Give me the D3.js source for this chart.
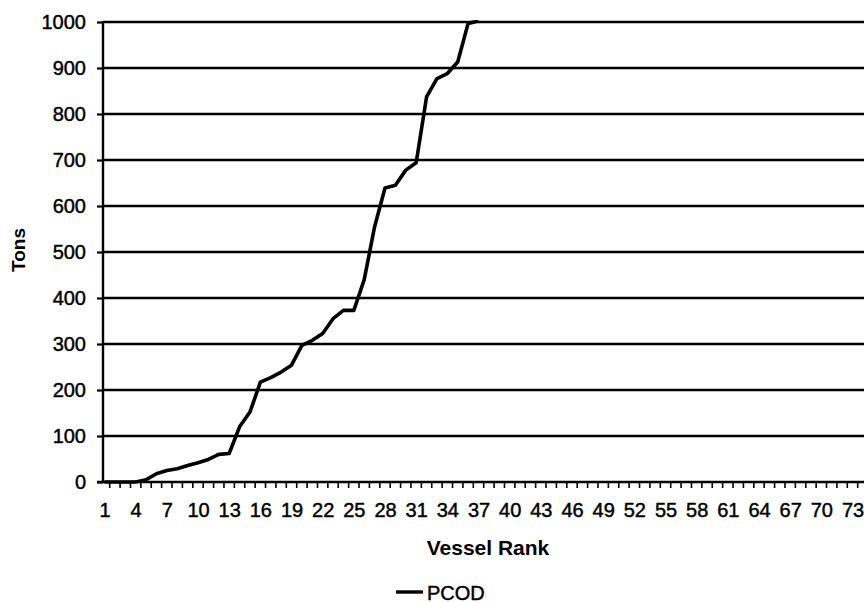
<!DOCTYPE html>
<html>
<head>
<meta charset="utf-8">
<script src="https://cdn.jsdelivr.net/npm/d3@7"></script>
<style>
  html, body { margin: 0; padding: 0; background: #fff; }
  svg { display: block; font-family: "Liberation Sans", Arial, Helvetica, sans-serif; }
  .heavy { stroke: #000; stroke-width: 0.45px; paint-order: stroke; }
</style>
</head>
<body>
<svg id="chart" width="864" height="603"></svg>
<script>
// Cumulative Pacific cod catch (tons) by vessel rank
const vesselRanks = d3.range(1, 74);
const xTickLabels = [1, 4, 7, 10, 13, 16, 19, 22, 25, 28, 31, 34, 37, 40, 43, 46, 49, 52, 55, 58, 61, 64, 67, 70, 73];
const yTickValues = [0, 100, 200, 300, 400, 500, 600, 700, 800, 900, 1000];
const seriesName = "PCOD";
const pcodTons = [
  0, 0, 0, 0, 5, 18, 25, 29, 36, 42,
  49, 60, 62, 120, 152, 217, 227, 239, 254, 297,
  308, 323, 355, 373, 373, 440, 555, 639, 645, 678,
  694, 837, 877, 888, 913, 997, 1002
];

const W = 864, H = 603;
const plot = { left: 103, right: 864, top: 22, bottom: 482 };

const svg = d3.select("#chart");

const x = d3.scalePoint().domain(vesselRanks).range([104.5, 852.5]);
const y = d3.scaleLinear().domain([0, 1000]).range([plot.bottom, plot.top]);

// horizontal gridlines
svg.append("g")
  .selectAll("line")
  .data(yTickValues.filter(v => v > 0))
  .join("line")
  .attr("x1", plot.left).attr("x2", plot.right)
  .attr("y1", d => y(d)).attr("y2", d => y(d))
  .attr("stroke", "#000").attr("stroke-width", 2.6);

// y axis
const yAxis = svg.append("g")
  .attr("transform", `translate(${plot.left},0)`)
  .call(d3.axisLeft(y).tickValues(yTickValues).tickSize(6).tickPadding(11).tickFormat(d3.format("d")));
yAxis.select(".domain").remove();
yAxis.selectAll(".tick line").attr("stroke", "#000").attr("stroke-width", 2.2);
yAxis.selectAll(".tick text")
  .attr("class", "heavy")
  .attr("fill", "#000")
  .style("font-size", "20px")
  .style("font-family", "'Liberation Sans', Arial, sans-serif");

// x axis labels
const step = x.step();
const xAxis = svg.append("g")
  .attr("transform", `translate(0,${plot.bottom})`)
  .call(d3.axisBottom(x).tickValues(xTickLabels).tickSize(0).tickPadding(21));
xAxis.select(".domain").remove();
xAxis.selectAll(".tick text")
  .attr("class", "heavy")
  .attr("fill", "#000")
  .style("font-size", "20px")
  .style("font-family", "'Liberation Sans', Arial, sans-serif");

// x tick marks between categories
svg.append("g")
  .selectAll("line")
  .data(vesselRanks)
  .join("line")
  .attr("x1", d => x(d) + step / 2).attr("x2", d => x(d) + step / 2)
  .attr("y1", plot.bottom).attr("y2", plot.bottom + 6)
  .attr("stroke", "#000").attr("stroke-width", 1.6);

// axis lines
svg.append("line")
  .attr("x1", plot.left).attr("x2", plot.left)
  .attr("y1", plot.top - 1).attr("y2", plot.bottom + 1)
  .attr("stroke", "#000").attr("stroke-width", 2.4);
svg.append("line")
  .attr("x1", plot.left - 6).attr("x2", plot.right)
  .attr("y1", plot.bottom).attr("y2", plot.bottom)
  .attr("stroke", "#000").attr("stroke-width", 2.6);

// series line, clipped to the plot area
svg.append("clipPath").attr("id", "plotClip")
  .append("rect")
  .attr("x", plot.left).attr("y", plot.top - 2)
  .attr("width", plot.right - plot.left).attr("height", plot.bottom - plot.top + 4);

const series = pcodTons.map((t, i) => ({ rank: vesselRanks[i], tons: t }));
svg.append("path")
  .datum(series)
  .attr("clip-path", "url(#plotClip)")
  .attr("fill", "none")
  .attr("stroke", "#000")
  .attr("stroke-width", 3.6)
  .attr("stroke-linejoin", "round")
  .attr("d", d3.line().x(d => x(d.rank)).y(d => y(d.tons)));

// axis titles
svg.append("text")
  .attr("transform", "translate(25,250) rotate(-90)")
  .attr("text-anchor", "middle")
  .style("font-size", "19px").style("font-weight", "bold")
  .text("Tons");

svg.append("text")
  .attr("x", 488).attr("y", 555)
  .attr("text-anchor", "middle")
  .style("font-size", "21px").style("font-weight", "bold")
  .text("Vessel Rank");

// legend
const legend = svg.append("g").attr("transform", "translate(396,592)");
legend.append("line")
  .attr("x1", 0).attr("x2", 27).attr("y1", 0).attr("y2", 0)
  .attr("stroke", "#000").attr("stroke-width", 3.4);
legend.append("text")
  .attr("class", "heavy")
  .attr("x", 31).attr("y", 7.5)
  .style("font-size", "20px")
  .text(seriesName);
</script>
</body>
</html>
